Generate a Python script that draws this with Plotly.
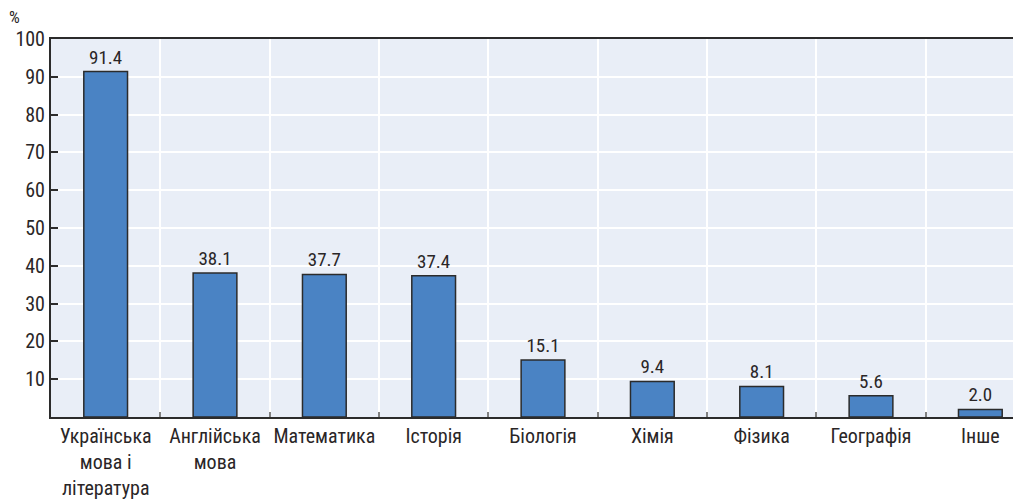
import plotly.graph_objects as go

categories = ["Українська<br>мова і<br>література", "Англійська<br>мова", "Математика", "Історія",
              "Біологія", "Хімія", "Фізика", "Географія", "Інше"]
values = [91.4, 38.1, 37.7, 37.4, 15.1, 9.4, 8.1, 5.6, 2.0]
y_ticks = [10, 20, 30, 40, 50, 60, 70, 80, 90, 100]

FONT = "Liberation Sans Narrow, Roboto Condensed, Roboto, sans-serif"
TXT = "#2A2627"

fig = go.Figure(go.Bar(
    x=categories, y=values,
    width=0.40,
    marker=dict(color="#4A83C4", line=dict(color="#2B2B2B", width=1.5)),
    text=[f"{v:.1f}" for v in values],
    textposition="outside",
    textfont=dict(family=FONT, size=19, color=TXT),
    cliponaxis=False,
))

# page body has an 8px margin, compensate so the plot area lands where the reference has it
fig.update_layout(
    width=1027, height=492,
    margin=dict(l=43, r=0, t=31, b=83, autoexpand=False),
    paper_bgcolor="white",
    plot_bgcolor="#E9EEF7",
    showlegend=False,
    font=dict(family=FONT, size=18, color=TXT),
)
fig.update_xaxes(
    type="category",
    tickson="boundaries",
    tickangle=0, automargin=False,
    showgrid=True, gridcolor="white", gridwidth=1.5,
    ticks="inside", ticklen=5, tickcolor="#808080", tickwidth=1.5,
    showline=True, linecolor="#2B2B2B", linewidth=2, mirror=True,
    tickfont=dict(family=FONT, size=20, color=TXT),
)
fig.update_yaxes(
    range=[0, 100],
    tickvals=y_ticks,
    automargin=False,
    showgrid=True, gridcolor="white", gridwidth=1.5,
    ticks="inside", ticklen=7, tickcolor="#2B2B2B", tickwidth=1.5,
    showline=True, linecolor="#2B2B2B", linewidth=2,
    zeroline=False,
    tickfont=dict(family=FONT, size=20, color=TXT),
)
fig.add_annotation(
    text="%", xref="paper", yref="paper", x=0, y=1.0,
    xanchor="center", yanchor="bottom", xshift=-37, yshift=10, showarrow=False,
    font=dict(family=FONT, size=17, color=TXT),
)

fig.write_html("out.html")
